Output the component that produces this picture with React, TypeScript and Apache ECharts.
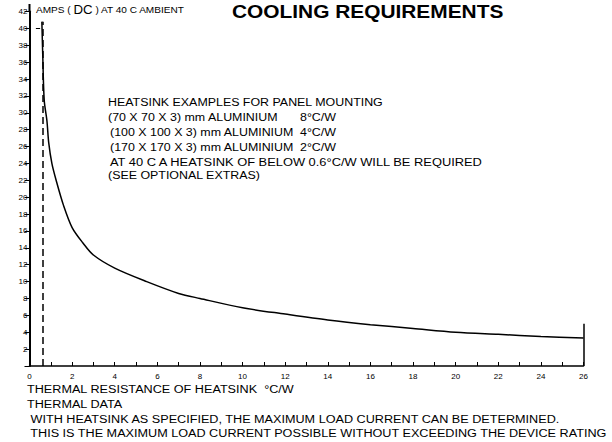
import React, { useEffect, useRef } from "react";
import * as echarts from "echarts";

const resistance = [0.58, 0.62, 0.69, 0.82, 0.9, 1.05, 1.25, 1.6, 2.0, 2.5, 3.0, 4.0, 5.5, 7.0, 8.0, 10, 12, 14, 16, 18, 20, 22, 24, 26];
const current = [40.8, 37, 31.5, 29, 26.5, 24, 22, 19, 16.4, 14.6, 13.15, 11.6, 10.0, 8.6, 8.0, 6.9, 6.15, 5.45, 4.9, 4.45, 4.0, 3.75, 3.5, 3.32];
const limitResistance = 0.6;
const limitTop = 40.8;
const rightEdge = 26;
const rightEdgeTop = 5;

const heatsinkLines = [
  "HEATSINK EXAMPLES FOR PANEL MOUNTING",
  "(70 X 70 X 3) mm ALUMINIUM",
  "(100 X 100 X 3) mm ALUMINIUM",
  "(170 X 170 X 3) mm ALUMINIUM",
  "AT 40 C A HEATSINK OF BELOW 0.6°C/W WILL BE REQUIRED",
  "(SEE OPTIONAL EXTRAS)",
];
const heatsinkRatings = ["", "8°C/W", "4°C/W", "2°C/W", "", ""];
const footerLines = [
  "THERMAL RESISTANCE OF HEATSINK  °C/W",
  "THERMAL DATA",
  " WITH HEATSINK AS SPECIFIED, THE MAXIMUM LOAD CURRENT CAN BE DETERMINED.",
  " THIS IS THE MAXIMUM LOAD CURRENT POSSIBLE WITHOUT EXCEEDING THE DEVICE RATING",
];

const FONT = "'Liberation Sans', Arial, Helvetica, sans-serif";

export default function App() {
  const ref = useRef<HTMLDivElement>(null);
  useEffect(() => {
    if (!ref.current) return;
    const chart = echarts.init(ref.current, null, { renderer: "svg" });
    const data = resistance.map((x, i) => [x, current[i]]);
    const heatY = [102, 117, 132, 147, 162, 175];
    const heatX = [108, 108, 110, 110, 110, 108];
    const footY = [389, 404, 419, 433];
    const HSX = 1.08;
    const FSX = 1.1;
    const graphic: any[] = [];
    heatsinkLines.forEach((t, i) => {
      graphic.push({
        type: "text",
        x: heatX[i],
        y: heatY[i],
        scaleX: i === 4 ? 1.12 : HSX,
        style: { text: t, font: `11.5px ${FONT}`, fill: "#000", textVerticalAlign: "middle" },
      });
      if (heatsinkRatings[i]) {
        graphic.push({
          type: "text",
          x: 300,
          y: heatY[i],
          scaleX: HSX,
          style: { text: heatsinkRatings[i], font: `11.5px ${FONT}`, fill: "#000", textVerticalAlign: "middle" },
        });
      }
    });
    footerLines.forEach((t, i) => {
      graphic.push({
        type: "text",
        x: 27,
        y: footY[i],
        scaleX: FSX,
        style: { text: t, font: `11.5px ${FONT}`, fill: "#000", textVerticalAlign: "middle" },
      });
    });
    graphic.push({
      type: "text",
      x: 232,
      y: 12,
      scaleX: 1.16,
      style: { text: "COOLING REQUIREMENTS", font: `bold 18px ${FONT}`, fill: "#000", textVerticalAlign: "middle" },
    });
    graphic.push({
      type: "text",
      x: 36,
      y: 10,
      scaleX: 1.06,
      style: {
        text: "{s|AMPS ( }{b|DC}{s| ) AT 40 C AMBIENT}",
        fill: "#000",
        textVerticalAlign: "middle",
        rich: {
          s: { fontSize: 9.5, fontFamily: FONT, fill: "#000" },
          b: { fontSize: 12.5, fontFamily: FONT, fill: "#000" },
        },
      },
    });
    graphic.push({
      type: "line",
      shape: { x1: 29.5, y1: 4, x2: 29.5, y2: 12 },
      style: { stroke: "#000", lineWidth: 2 },
    });

    chart.setOption({
      animation: false,
      backgroundColor: "#fff",
      grid: { left: 29.5, top: 11.5, width: 554, height: 354.5, containLabel: false },
      xAxis: {
        type: "value",
        min: 0,
        max: 26,
        interval: 1,
        axisLine: { show: true, onZero: false, lineStyle: { color: "#000", width: 1.5 } },
        axisTick: { show: true, inside: true, length: 4, lineStyle: { color: "#000", width: 1 } },
        axisLabel: {
          margin: 6,
          fontSize: 8,
          fontFamily: FONT,
          color: "#000",
          formatter: (v: number) => (v % 2 === 0 ? String(v) : ""),
        },
        splitLine: { show: false },
      },
      yAxis: {
        type: "value",
        min: 0,
        max: 42,
        interval: 2,
        axisLine: { show: true, onZero: false, lineStyle: { color: "#000", width: 2 } },
        axisTick: { show: true, inside: false, length: 5, lineStyle: { color: "#000", width: 1 } },
        axisLabel: {
          margin: 2,
          fontSize: 8,
          fontFamily: FONT,
          color: "#000",
          formatter: (v: number) => (v === 0 ? "" : String(v)),
        },
        splitLine: { show: false },
      },
      series: [
        {
          type: "line",
          data,
          symbol: "none",
          smooth: 0.3,
          lineStyle: { color: "#000", width: 1.5 },
          markLine: {
            silent: true,
            symbol: "none",
            label: { show: false },
            data: [
              [
                { coord: [limitResistance, 0], lineStyle: { color: "#000", width: 1.5, type: [7, 4] } },
                { coord: [limitResistance, limitTop] },
              ],
              [
                { coord: [rightEdge, 0], lineStyle: { color: "#000", width: 1.5, type: "solid" } },
                { coord: [rightEdge, rightEdgeTop] },
              ],
              [
                { coord: [0.3, 40], lineStyle: { color: "#000", width: 1, type: "solid" } },
                { coord: [0.5, 40] },
              ],
            ],
          },
        },
      ],
      graphic,
    });
    return () => chart.dispose();
  }, []);
  return (
    <div
      ref={ref}
      style={{ position: "fixed", left: 0, top: 0, width: 612, height: 442, background: "#fff" }}
    />
  );
}
